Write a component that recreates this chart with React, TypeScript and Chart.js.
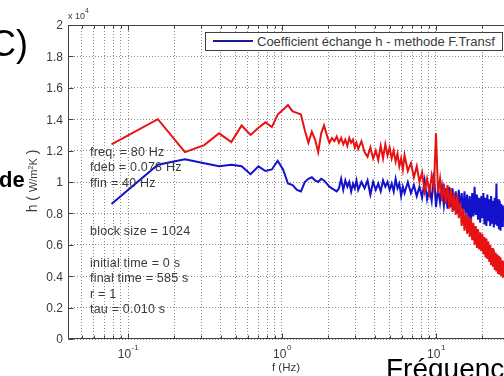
import React, { useEffect, useRef } from "react";
import { Chart, registerables } from "chart.js";

Chart.register(...registerables);

// Frequency resolution: freq = 80 Hz, block size = 1024
const DF = 80 / 1024;

// FFT bin indices of the plotted points
const bins = [
  1, 2, 3, 4, 5, 6, 7, 8, 9, 10, 11, 12, 13, 14, 15, 16, 17, 18, 19, 20,
  21, 22, 23, 24, 25, 26, 27, 28, 29, 30, 31, 32, 33, 34, 35, 36, 37, 38, 39, 40,
  42, 44, 46, 48, 50, 52, 54, 56, 58, 60, 62, 64, 66, 68, 70, 72, 74, 76, 78, 80,
  84, 88, 92, 96, 100, 104, 108, 112, 116, 120, 124, 128, 132, 136, 140, 144, 148, 152, 156, 160,
  164, 168, 172, 176, 180, 184, 188, 192, 196, 200, 204, 208, 212, 216, 220, 224, 228, 232, 236, 240,
  244, 248, 252, 256, 260, 264, 268, 272, 276, 280, 284, 288, 292, 296, 300, 304, 308, 312, 316, 320,
  324, 328, 332, 336, 340, 344, 348, 352,
];

// red curve (x 10^4 W/m²K)
const hRed = [
  1.24, 1.40, 1.19, 1.235, 1.31, 1.255, 1.36, 1.30, 1.345, 1.38,
  1.35, 1.43, 1.46, 1.49, 1.45, 1.44, 1.43, 1.33, 1.25, 1.32,
  1.27, 1.19, 1.31, 1.36, 1.30, 1.25, 1.28, 1.26, 1.29, 1.25,
  1.28, 1.24, 1.27, 1.23, 1.28, 1.25, 1.27, 1.22, 1.25, 1.21,
  1.26, 1.19, 1.16, 1.22, 1.15, 1.20, 1.14, 1.23, 1.15, 1.24,
  1.17, 1.22, 1.15, 1.20, 1.13, 1.18, 1.10, 1.15, 1.08, 1.17,
  1.07, 1.12, 1.03, 1.10, 1.00, 1.06, 0.94, 1.02, 0.93, 1.04,
  0.96, 1.31, 0.93, 1.02, 0.88, 0.99, 0.86, 0.98, 0.83, 0.96,
  0.81, 0.93, 0.79, 0.92, 0.77, 0.87, 0.72, 0.83, 0.69, 0.80,
  0.67, 0.78, 0.65, 0.77, 0.63, 0.74, 0.60, 0.72, 0.58, 0.70,
  0.57, 0.68, 0.56, 0.67, 0.54, 0.65, 0.52, 0.64, 0.51, 0.62,
  0.49, 0.60, 0.47, 0.58, 0.46, 0.57, 0.44, 0.55, 0.43, 0.54,
  0.42, 0.53, 0.41, 0.52, 0.40, 0.50, 0.39, 0.49,
];

// blue curve: Coefficient échange h - methode F.Transf (x 10^4)
const hBlue = [
  0.86, 1.11, 1.145, 1.12, 1.10, 1.11, 1.10, 1.05, 1.10, 1.07,
  1.08, 1.135, 1.08, 0.99, 0.98, 0.95, 0.94, 1.00, 1.02, 1.03,
  1.01, 1.00, 1.02, 1.01, 0.99, 0.97, 0.96, 0.95, 0.94, 0.96,
  1.02, 0.95, 1.01, 0.97, 1.00, 0.94, 0.99, 0.96, 1.01, 0.95,
  1.00, 0.96, 1.01, 0.92, 1.00, 0.95, 0.99, 0.94, 1.01, 0.97,
  1.00, 0.95, 0.99, 0.94, 1.02, 0.96, 0.99, 0.91, 0.97, 0.93,
  1.00, 0.93, 0.98, 0.91, 0.97, 0.90, 1.01, 0.89, 0.96, 0.88,
  1.06, 0.84, 0.96, 0.87, 0.97, 0.85, 0.96, 0.83, 0.97, 0.84,
  0.96, 0.82, 0.94, 0.80, 0.95, 0.82, 0.93, 0.78, 0.94, 0.80,
  0.92, 0.76, 0.91, 0.74, 0.93, 0.78, 0.97, 0.79, 0.92, 0.76,
  0.90, 0.74, 0.91, 0.77, 0.93, 0.73, 0.90, 0.72, 0.92, 0.75,
  0.89, 0.72, 0.91, 0.74, 0.88, 0.71, 0.90, 0.73, 0.99, 0.72,
  0.89, 0.70, 0.88, 0.69, 0.86, 0.72, 0.85, 0.75,
];

const yTicks = [0, 0.2, 0.4, 0.6, 0.8, 1, 1.2, 1.4, 1.6, 1.8, 2];
const yTickLabels = ["0", "0.2", "0.4", "0.6", "0.8", "1", "1.2", "1.4", "1.6", "1.8", "2"];
const xGridTicks = [
  0.05, 0.06, 0.07, 0.08, 0.09, 0.1, 0.2, 0.3, 0.4, 0.5, 0.6, 0.7, 0.8, 0.9,
  1, 2, 3, 4, 5, 6, 7, 8, 9, 10, 20,
];
const xMajor = [0.1, 1, 10];
const xMajorExp = ["-1", "0", "1"];
const X_MIN = 0.04077;
const X_MAX = 27.65;

const LEGEND_LABEL = "Coefficient échange h - methode F.Transf";
const infoLines = [
  { text: "freq. = 80 Hz", y: 152 },
  { text: "fdeb = 0.078 Hz", y: 167 },
  { text: "ffin = 40 Hz", y: 183 },
  { text: "block size = 1024", y: 231 },
  { text: "initial time = 0 s", y: 263 },
  { text: "final time = 585 s", y: 278 },
  { text: "r = 1", y: 294 },
  { text: "tau = 0.010 s", y: 309 },
];

const RED = "#e81212";
const BLUE = "#1212cc";
const GRID = "#8c8c8c";
const AXIS = "#404040";
const TXT = "#3a3a3a";
const FONT = "'Liberation Sans', Arial, Helvetica, sans-serif";

const axisPlugin = {
  id: "matlabAxes",
  afterDraw(chart: any) {
    const { ctx, chartArea: a, scales } = chart;
    const x = scales.x;
    const y = scales.y;
    const L = Math.round(a.left) + 0.5;
    const T = Math.round(a.top) + 0.5;
    const B = Math.round(a.bottom) - 0.5;
    ctx.save();
    ctx.strokeStyle = AXIS;
    ctx.lineWidth = 1;
    ctx.setLineDash([]);
    ctx.beginPath();
    ctx.moveTo(a.right + 2, T);
    ctx.lineTo(L, T);
    ctx.lineTo(L, B);
    ctx.lineTo(a.right + 2, B);
    yTicks.forEach((v) => {
      const py = Math.round(y.getPixelForValue(v)) + 0.5;
      ctx.moveTo(L, py);
      ctx.lineTo(L + 5, py);
    });
    xGridTicks.forEach((v) => {
      const px = Math.round(x.getPixelForValue(v)) + 0.5;
      const len = xMajor.includes(v) ? 5 : 3;
      ctx.moveTo(px, B);
      ctx.lineTo(px, B - len);
      ctx.moveTo(px, T);
      ctx.lineTo(px, T + len);
    });
    ctx.stroke();

    ctx.fillStyle = TXT;
    ctx.font = `12px ${FONT}`;
    ctx.textAlign = "right";
    ctx.textBaseline = "middle";
    yTicks.forEach((v, i) => {
      ctx.fillText(yTickLabels[i], a.left - 5, y.getPixelForValue(v) + 1);
    });

    ctx.textAlign = "left";
    ctx.textBaseline = "alphabetic";
    xMajor.forEach((v, i) => {
      const px = x.getPixelForValue(v);
      ctx.font = `12px ${FONT}`;
      const w1 = ctx.measureText("10").width;
      ctx.font = `8px ${FONT}`;
      const w2 = ctx.measureText(xMajorExp[i]).width;
      const start = px - (w1 + w2) / 2;
      ctx.font = `12px ${FONT}`;
      ctx.fillText("10", start, 358);
      ctx.font = `8px ${FONT}`;
      ctx.fillText(xMajorExp[i], start + w1 + 0.5, 350);
    });

    ctx.font = `11.5px ${FONT}`;
    ctx.textAlign = "center";
    ctx.fillText("f (Hz)", 286, 371);

    ctx.textAlign = "left";
    ctx.font = `9px ${FONT}`;
    ctx.fillText("x 10", 68, 19);
    ctx.font = `7px ${FONT}`;
    ctx.fillText("4", 85, 13);
    ctx.restore();
  },
};

export default function App() {
  const ref = useRef<HTMLCanvasElement>(null);

  useEffect(() => {
    document.body.style.margin = "0";
    const canvas = ref.current;
    if (!canvas) return;
    const freq = bins.map((k) => k * DF);
    const chart = new Chart(canvas, {
      type: "line",
      data: {
        datasets: [
          {
            label: "h",
            data: freq.map((f, i) => ({ x: f, y: hRed[i] })),
            borderColor: RED,
            borderWidth: 2,
            pointRadius: 0,
            tension: 0,
            fill: false,
          },
          {
            label: LEGEND_LABEL,
            data: freq.map((f, i) => ({ x: f, y: hBlue[i] })),
            borderColor: BLUE,
            borderWidth: 2,
            pointRadius: 0,
            tension: 0,
            fill: false,
          },
        ],
      },
      options: {
        responsive: false,
        animation: false,
        devicePixelRatio: 1,
        layout: { padding: { left: 68, top: 25, right: 0, bottom: 37 } },
        plugins: { legend: { display: false }, tooltip: { enabled: false } },
        scales: {
          x: {
            type: "logarithmic",
            min: X_MIN,
            max: X_MAX,
            afterBuildTicks: (s: any) => {
              s.ticks = xGridTicks.map((v) => ({ value: v }));
            },
            afterFit: (s: any) => {
              s.height = 0;
            },
            ticks: { display: false },
            grid: { color: GRID, lineWidth: 1, drawTicks: false },
            border: { display: false, dash: [1, 2] },
          },
          y: {
            type: "linear",
            min: 0,
            max: 2,
            afterBuildTicks: (s: any) => {
              s.ticks = yTicks.map((v) => ({ value: v }));
            },
            afterFit: (s: any) => {
              s.width = 0;
            },
            ticks: { display: false },
            grid: { color: GRID, lineWidth: 1, drawTicks: false },
            border: { display: false, dash: [1, 2] },
          },
        },
      } as any,
      plugins: [axisPlugin],
    });
    return () => chart.destroy();
  }, []);

  return (
    <div
      style={{
        position: "fixed",
        left: 0,
        top: 0,
        width: 504,
        height: 376,
        overflow: "hidden",
        background: "#fff",
        fontFamily: FONT,
      }}
    >
      <canvas ref={ref} width={504} height={376} style={{ position: "absolute", left: 0, top: 0 }} />

      {/* legend */}
      <div
        style={{
          position: "absolute",
          left: 205,
          top: 32,
          width: 298,
          height: 19,
          boxSizing: "border-box",
          border: `1px solid ${AXIS}`,
          background: "#fff",
        }}
      >
        <div style={{ position: "absolute", left: 7, top: 7, width: 40, height: 2, background: "#1c1c90" }} />
        <div
          style={{
            position: "absolute",
            left: 51,
            top: 0,
            fontSize: 13,
            lineHeight: "17px",
            color: TXT,
            whiteSpace: "nowrap",
          }}
        >
          {LEGEND_LABEL}
        </div>
      </div>

      {/* info text */}
      {infoLines.map((l) => (
        <div
          key={l.text}
          style={{
            position: "absolute",
            left: 90,
            top: l.y - 8,
            fontSize: 12.5,
            lineHeight: "16px",
            color: TXT,
            whiteSpace: "nowrap",
            letterSpacing: "0.2px",
          }}
        >
          {l.text}
        </div>
      ))}

      {/* y axis title */}
      <div
        style={{
          position: "absolute",
          left: 32,
          top: 181,
          transform: "translate(-50%, -50%) rotate(-90deg)",
          whiteSpace: "nowrap",
          color: TXT,
          fontSize: 14,
          lineHeight: "16px",
        }}
      >
        h ( <span style={{ fontSize: 11 }}>W/m</span>
        <sup style={{ fontSize: 7, verticalAlign: "4px" }}>2</sup>
        <span style={{ fontSize: 11 }}>K</span> )
      </div>

      {/* fragments of the surrounding slide */}
      <div style={{ position: "absolute", left: -10, top: 26, fontSize: 36, lineHeight: "36px", color: "#000", whiteSpace: "nowrap" }}>
        C)
      </div>
      <div style={{ position: "absolute", left: -1, top: 169, fontSize: 22, lineHeight: "22px", fontWeight: "bold", color: "#000", whiteSpace: "nowrap" }}>
        de
      </div>
      <div style={{ position: "absolute", left: 386, top: 355, fontSize: 28, lineHeight: "28px", color: "#000", whiteSpace: "nowrap" }}>
        Fréquence
      </div>
    </div>
  );
}
